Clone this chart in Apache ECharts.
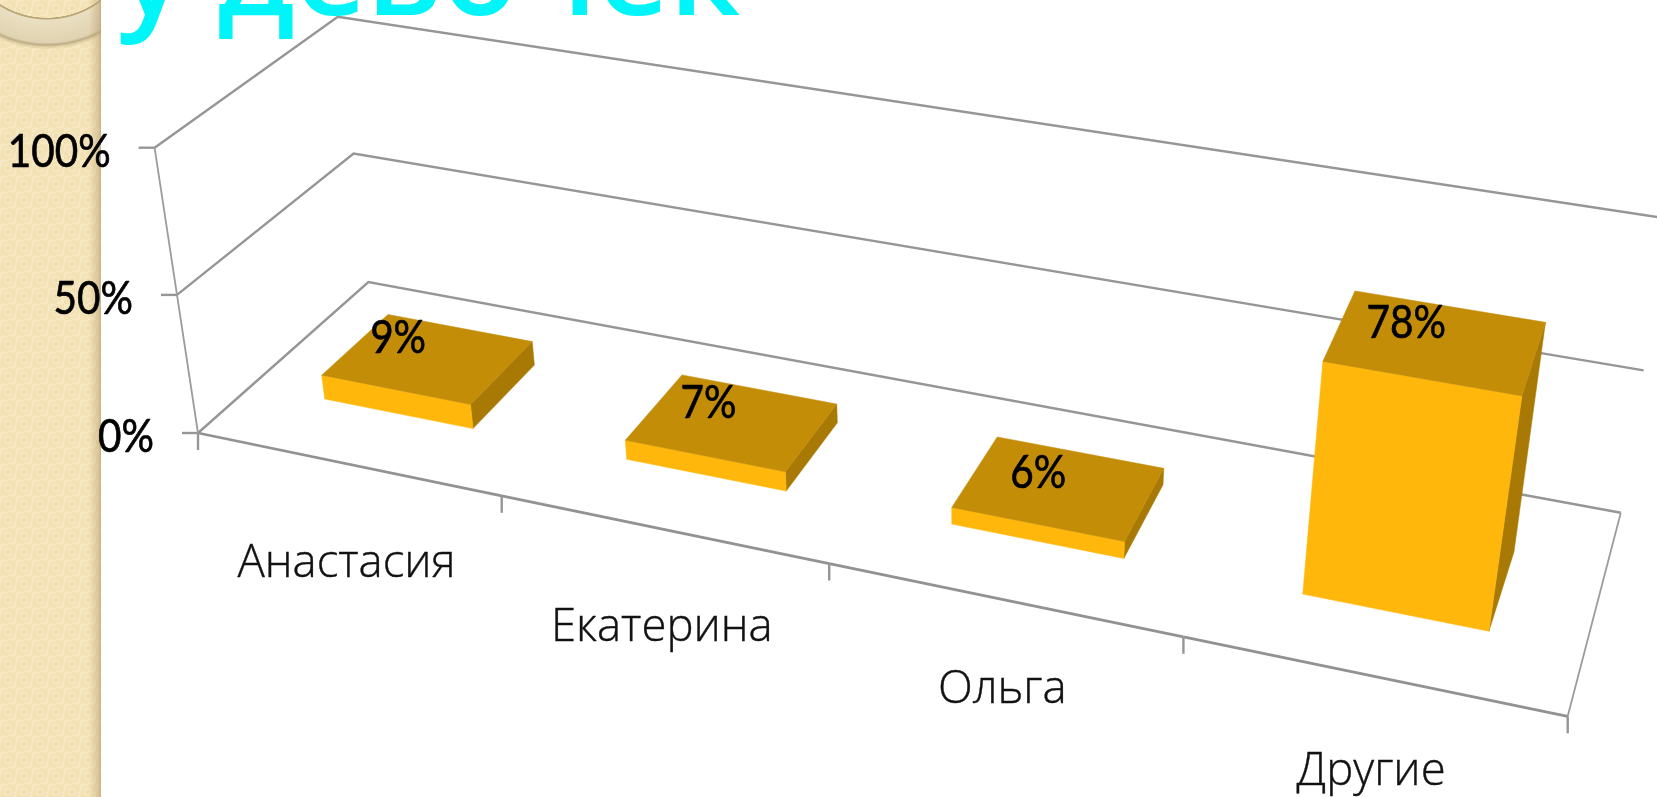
<!DOCTYPE html>
<html><head><meta charset="utf-8">
<style>
html,body{margin:0;padding:0;background:#fff;overflow:hidden}
#strip{position:absolute;left:0;top:0;width:101px;height:797px;
background:
 linear-gradient(to right,rgba(190,160,110,0) 88%,rgba(190,160,110,.5) 98%,rgba(170,150,120,.65) 100%),
 radial-gradient(circle at 47px -69.5px,transparent 87px,#b9a679 87.5px,#b9a679 88.5px,#eadfc2 89.5px,#e0d3b1 112px,#bdab84 114.5px,rgba(190,170,130,.45) 116px,transparent 119px),
 radial-gradient(circle at 8px 8px,#f0dfb0 0,#f0dfb0 2px,#f6e7c0 3px,#f6e7c0 4px,#f0dfb2 5px,transparent 7px),
 repeating-conic-gradient(#f3e2b6 0 25%,#f7e8c2 0 50%);
background-size:100% 100%,100% 100%,16px 16px,16px 16px;}
#c{position:absolute;left:0;top:0;width:1657px;height:797px}
</style></head><body>
<div id="strip"></div><div id="c"></div>
<script src="https://cdn.jsdelivr.net/npm/echarts@6/dist/echarts.min.js"></script>
<script>
const categories = ['Анастасия', 'Екатерина', 'Ольга', 'Другие'];
const values = [9, 7, 6, 78];
const yTicks = [0, 50, 100];
const yTickLabels = ['0%', '50%', '100%'];
const titleText = 'у девочек';

// picture-plane frame of the drawn 3D box (style of the projection, not data)
const bottomQuad = [[198,433],[1567.7,716.3],[1620.8,512.7],[368.4,282]];
const topQuad    = [[154.6,147.7],[1622,403],[1668,218.6],[337.8,16.7]];
const DEPTH_FRONT = 0.30, DEPTH_BACK = 0.70, PERSPECTIVE_K = 1.066;
const CAT_LABEL_DY = [8, 7, -1, 4];
const BAR_LABEL_DX = [2, 8, 11, 2];
const BAR_LABEL_DY = [0, 1, 6, 2];

function homography(q){
  const [p0,p1,p2,p3]=q;
  const dx1=p1[0]-p2[0],dx2=p3[0]-p2[0],sx=p0[0]-p1[0]+p2[0]-p3[0];
  const dy1=p1[1]-p2[1],dy2=p3[1]-p2[1],sy=p0[1]-p1[1]+p2[1]-p3[1];
  const den=dx1*dy2-dx2*dy1;
  const g=(sx*dy2-dx2*sy)/den,h=(dx1*sy-sx*dy1)/den;
  const a=p1[0]-p0[0]+g*p1[0],b=p3[0]-p0[0]+h*p3[0],c=p0[0];
  const d=p1[1]-p0[1]+g*p1[1],e=p3[1]-p0[1]+h*p3[1],f=p0[1];
  return (u,w)=>{const t=g*u+h*w+1;return [(a*u+b*w+c)/t,(d*u+e*w+f)/t];};
}
const H0=homography(bottomQuad),H1=homography(topQuad);
function P(u,v,w){
  const k=v/(v+(1-v)*PERSPECTIVE_K);
  const A=H0(u,w),B=H1(u,w);
  return [A[0]+(B[0]-A[0])*k,A[1]+(B[1]-A[1])*k];
}
function norm(params,pt){
  const r=params.coordSys;
  return [(pt[0]-r.x)/r.width,(r.y+r.height-pt[1])/r.height];
}
const LINE={stroke:'#969696',lineWidth:2.4,fill:null};
const LINE_THIN={stroke:'#9c9c9c',lineWidth:1.8,fill:null};
function poly(points,style,z2){return {type:'polyline',silent:true,z2:z2||0,shape:{points},style};}
const FONT_A="'Lato','Open Sans',sans-serif",FONT_C="'Open Sans','Noto Sans',sans-serif";
const numStyle=(text,align)=>({text,fontFamily:FONT_A,fontSize:46,fill:'#000',stroke:'#000',lineWidth:0.7,align,verticalAlign:'middle'});

function renderWallTick(params,api){
  const nv=norm(params,api.coord([0,api.value(1)]))[1];
  const a=P(0,nv,0),b=P(0,nv,1),c=P(1,nv,1);
  return {type:'group',children:[poly([a,b,c],LINE),
    poly([[a[0]-16,a[1]],a],LINE),
    {type:'text',silent:true,z2:20,x:a[0]-44,y:a[1]+4,scaleX:0.88,style:numStyle(yTickLabels[params.dataIndex],'right')}]};
}
function renderFrame(){
  return {type:'group',children:[
    poly([P(1,0,0),P(1,0,1)],LINE_THIN),
    poly([P(0,1,0),P(0,0,0)],LINE_THIN)
  ]};
}
function renderCat(params,api){
  const i=params.dataIndex;
  const c=api.coord([api.value(0),0]),bw=api.size([1,0])[0];
  const n=norm(params,c),half=bw/params.coordSys.width/2;
  const m=P(n[0],0,0),t=P(n[0]+half,0,0),t0=P(n[0]-half,0,0);
  const kids=[poly([t0,t],{stroke:'#929292',lineWidth:2.8,fill:null}),
    poly([t,[t[0],t[1]+17]],LINE),
    {type:'text',silent:true,z2:20,x:m[0]-0.5,y:m[1]+92+CAT_LABEL_DY[i],style:{text:categories[i],fontFamily:FONT_C,fontWeight:300,fontSize:45.5,fill:'#111',stroke:'#111',lineWidth:0.4,align:'center',verticalAlign:'middle'}}];
  if(i===0){kids.push(poly([t0,[t0[0],t0[1]+17]],LINE));}
  return {type:'group',children:kids};
}
function renderBar(params,api){
  const i=params.dataIndex;
  const c=api.coord([api.value(0),api.value(1)]),bw=api.size([1,0])[0];
  const n=norm(params,c),half=bw/params.coordSys.width*0.25;
  const u0=n[0]-half,u1=n[0]+half,v=n[1],w0=DEPTH_FRONT,w1=DEPTH_BACK;
  const face=(pts,fill)=>({type:'polygon',silent:true,shape:{points:pts},style:{fill,stroke:fill,lineWidth:.5}});
  const tc=[P(u0,v,w0),P(u1,v,w0),P(u1,v,w1),P(u0,v,w1)];
  const cx=tc.reduce((s,q)=>s+q[0],0)/4,cy=tc.reduce((s,q)=>s+q[1],0)/4;
  return {type:'group',children:[
    face([P(u1,0,w0),P(u1,0,w1),P(u1,v,w1),P(u1,v,w0)],'#A87A05'),
    face([P(u0,0,w0),P(u1,0,w0),P(u1,v,w0),P(u0,v,w0)],'#FFB70B'),
    face(tc,'#C38D07'),
    {type:'text',silent:true,z2:20,x:cx-32+BAR_LABEL_DX[i],y:cy-21+BAR_LABEL_DY[i],scaleX:0.88,style:numStyle(api.value(1)+'%','center')}
  ]};
}
const chart=echarts.init(document.getElementById('c'),null,{renderer:'canvas'});
chart.setOption({
  backgroundColor:'transparent',animation:false,
  title:{text:titleText,left:113,top:-88,textStyle:{color:'#00F5F8',fontFamily:FONT_C,fontWeight:600,fontSize:125}},
  grid:{left:0,right:0,top:0,bottom:0},
  xAxis:{type:'category',data:categories,show:false},
  yAxis:{type:'value',min:0,max:100,interval:50,show:false},
  series:[
    {type:'custom',coordinateSystem:'cartesian2d',clip:false,renderItem:renderWallTick,data:yTicks.map(t=>[0,t]),encode:{x:0,y:1},silent:true,z:1},
    {type:'custom',coordinateSystem:'cartesian2d',clip:false,renderItem:renderFrame,data:[[0,0]],silent:true,z:1},
    {type:'custom',coordinateSystem:'cartesian2d',clip:false,renderItem:renderCat,data:categories.map((c,i)=>[i,0]),silent:true,z:1},
    {type:'custom',coordinateSystem:'cartesian2d',clip:false,renderItem:renderBar,data:values.map((v,i)=>[i,v]),encode:{x:0,y:1},silent:true,z:3}
  ]
});
</script></body></html>
